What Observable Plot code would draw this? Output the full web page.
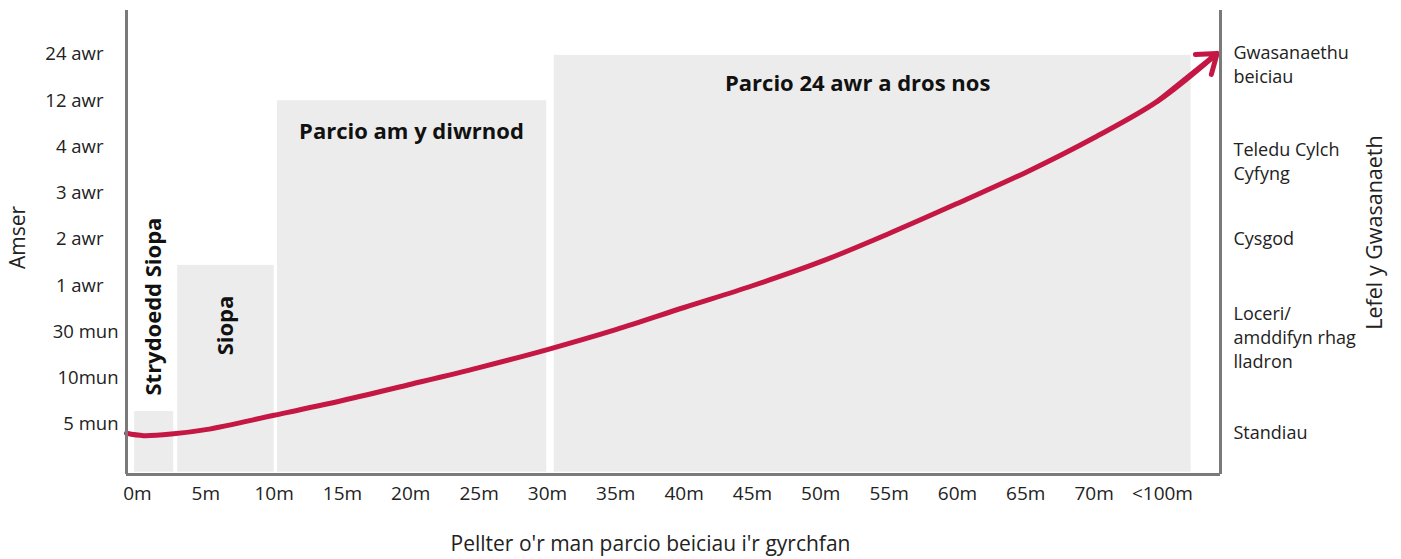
<!DOCTYPE html>
<html>
<head>
<meta charset="utf-8">
<script src="https://cdn.jsdelivr.net/npm/d3@7"></script>
<script src="https://cdn.jsdelivr.net/npm/@observablehq/plot@0.6"></script>
<style>
  html, body { margin: 0; padding: 0; background: #fff; }
  #chart svg { display: block; }
</style>
</head>
<body>
<div id="chart"></div>
<script>
// Distance categories (x axis)
const distanceLabels = ["0m","5m","10m","15m","20m","25m","30m","35m","40m","45m","50m","55m","60m","65m","70m","<100m"];
// Time categories (left y axis), bottom to top
const timeLabels = ["5 mun","10mun","30 mun","1 awr","2 awr","3 awr","4 awr","12 awr","24 awr"];

// Parking zones: distance span (category index units) and time reached (time index units)
const zoneNames = ["Strydoedd Siopa","Siopa","Parcio am y diwrnod","Parcio 24 awr a dros nos"];
const zoneStart = [-0.04, 0.59, 2.05, 6.10];
const zoneEnd   = [0.53, 2.00, 5.99, 15.42];
const zoneTime  = [0.28, 3.44, 7.00, 7.98];
const zoneLabelDistance = [0.24, 1.29, 4.01, 10.54];
const zoneLabelTime     = [2.55, 2.14, 6.33, 7.37];
const zoneLabelRotate   = [-90, -90, 0, 0];

// Service level curve (distance index, time index)
const curveDistance = [-0.16, 0.09, 0.53, 1, 2, 3, 4, 5, 6, 7, 8, 9, 10, 11, 12, 13, 14, 14.93, 15.8];
const curveTime     = [-0.19, -0.24, -0.2, -0.11, 0.2, 0.52, 0.87, 1.23, 1.62, 2.05, 2.53, 3.0, 3.52, 4.13, 4.78, 5.45, 6.2, 6.99, 8.02];

// Service levels (right axis)
const serviceLevels = ["Gwasanaethu\nbeiciau","Teledu Cylch\nCyfyng","Cysgod","Loceri/\namddifyn rhag\nlladron","Standiau"];
const serviceTime   = [7.8, 5.71, 4.04, 1.9, -0.15];

const xTitle = "Pellter o'r man parcio beiciau i'r gyrchfan";
const yTitle = "Amser";
const y2Title = "Lefel y Gwasanaeth";

const zoneIdx = d3.range(zoneNames.length);
const curve = curveDistance.map((d, i) => ({x: d, y: curveTime[i]}));
const n = curve.length;
const arrowSeg = [{x1: curve[n - 2].x, y1: curve[n - 2].y, x2: curve[n - 1].x, y2: curve[n - 1].y}];
const services = serviceLevels.map((s, i) => ({label: s, y: serviceTime[i]}));

const font = "'Open Sans', 'Noto Sans', sans-serif";
const axisColor = "#7a7a7a";
const textColor = "#222";
const curveColor = "#c41744";

const awrTicks = d3.range(timeLabels.length).filter(i => timeLabels[i].includes("awr"));
const munTicks = d3.range(timeLabels.length).filter(i => timeLabels[i].includes("mun"));

const chart = Plot.plot({
  width: 1401,
  height: 559,
  marginLeft: 126,
  marginRight: 181,
  marginTop: 10,
  marginBottom: 85,
  style: {fontFamily: font, fontSize: "18px", color: textColor, background: "#fff"},
  x: {type: "linear", domain: [-0.16, 15.85]},
  y: {type: "linear", domain: [-1.08, 8.95]},
  marks: [
    Plot.rect(zoneIdx, {
      x1: i => zoneStart[i], x2: i => zoneEnd[i],
      y1: () => -1.03, y2: i => zoneTime[i],
      fill: "#ececec"
    }),
    Plot.text(zoneIdx, {
      x: i => zoneLabelDistance[i], y: i => zoneLabelTime[i],
      text: i => zoneNames[i], rotate: i => zoneLabelRotate[i],
      fontWeight: "bold", fontSize: 22, fill: "#111", fontFamily: font
    }),
    Plot.line(curve, {x: "x", y: "y", curve: "catmull-rom", stroke: curveColor, strokeWidth: 5, strokeLinecap: "round"}),
    Plot.arrow(arrowSeg, {x1: "x1", y1: "y1", x2: "x2", y2: "y2", stroke: curveColor, strokeWidth: 5, headLength: 6.5, headAngle: 72}),
    Plot.ruleX([-0.16, 15.85], {stroke: axisColor, strokeWidth: 3}),
    Plot.ruleY([-1.08], {stroke: axisColor, strokeWidth: 3}),
    Plot.axisX(d3.range(distanceLabels.length), {
      tickFormat: i => distanceLabels[i], tickSize: 0, tickPadding: 12,
      fontSize: 19, fill: textColor, label: null
    }),
    Plot.axisY(awrTicks, {
      tickFormat: i => timeLabels[i], tickSize: 0, tickPadding: 23,
      fontSize: 18.5, fill: textColor, label: null
    }),
    Plot.axisY(munTicks, {
      tickFormat: i => timeLabels[i], tickSize: 0, tickPadding: 8,
      fontSize: 18.5, fill: textColor, label: null
    }),
    Plot.text(services, {
      y: "y", text: "label", frameAnchor: "right", dx: 13, textAnchor: "start",
      lineAnchor: "middle", lineHeight: 1.33, fontSize: 18, fill: textColor
    }),
    Plot.text([xTitle], {frameAnchor: "bottom", dy: 76, dx: -23, fontSize: 21, fill: textColor}),
    Plot.text([yTitle], {frameAnchor: "left", dx: -108, dy: -5, rotate: -90, textAnchor: "middle", fontSize: 21, fill: textColor}),
    Plot.text([y2Title], {frameAnchor: "right", dx: 155, dy: -10, rotate: -90, textAnchor: "middle", fontSize: 21.5, fill: textColor})
  ]
});
document.getElementById("chart").appendChild(chart);
</script>
</body>
</html>
